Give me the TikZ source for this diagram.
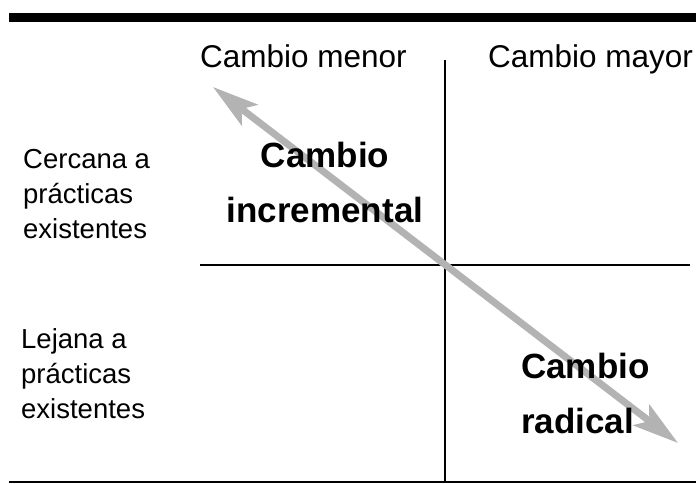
\documentclass[tikz,border=0pt]{standalone}
\usepackage{fontspec}
\setmainfont{Liberation Sans}
\usetikzlibrary{arrows.meta}
\definecolor{arrowgray}{RGB}{179,179,179}
\begin{document}
\begin{tikzpicture}[x=1pt,y=-1pt,
  headtext/.style={font=\fontsize{31.5}{36}\selectfont,anchor=base west,inner sep=0pt},
  sidetext/.style={font=\fontsize{27.5}{35}\selectfont,align=left,anchor=base west,inner sep=0pt},
  quadtext/.style={font=\bfseries\fontsize{35}{54.5}\selectfont,inner sep=0pt},
  gtip/.tip={Stealth[length=46pt,width=26pt,inset=10pt]}]
 	\useasboundingbox (0,0) rectangle (696,484);
 	% frame lines
 	\fill (9,13) rectangle (696,22);
 	\draw[line width=2pt] (9,482) -- (696,482);
 	\coordinate (top) at (445,60);
 	\coordinate (bottom) at (445,482);
 	\coordinate (left) at (200,265);
 	\coordinate (right) at (690,265);
 	\draw[line width=2.5pt] (top) -- (bottom);
 	\draw[line width=2.5pt] (left) -- (right);
 	% diagonal arrow
 	\coordinate (minor) at (213,87);
 	\coordinate (major) at (678,443);
 	\draw[color=arrowgray,line width=7pt,gtip-gtip] (minor) -- (major);
 	% texts (base = last line)
 	\node[headtext] (menor) at (200,68) {Cambio menor};
 	\node[headtext] (mayor) at (488,68) {Cambio mayor};
 	\node[sidetext] (cercana) at (23,238) {Cercana a\\prácticas\\existentes};
 	\node[sidetext] (lejana) at (21,418) {Lejana a\\prácticas\\existentes};
 	\node[quadtext,align=center,anchor=base] (incremental) at (325,222) {Cambio\\incremental};
 	\node[quadtext,align=left,anchor=base west] (radical) at (521,433) {Cambio\\radical};
\end{tikzpicture}
\end{document}
